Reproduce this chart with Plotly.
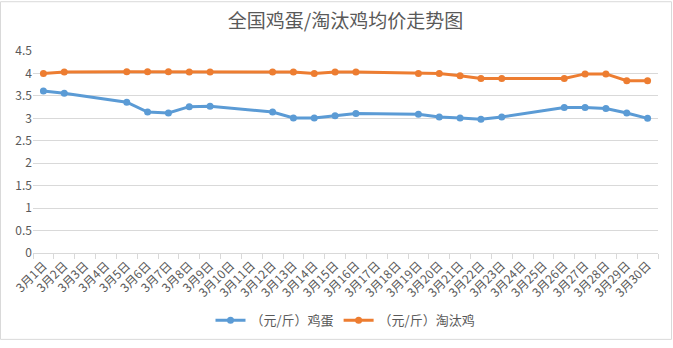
import plotly.graph_objects as go

days = [f"3月{d}日" for d in range(1, 31)]

egg = [3.61, 3.56, None, None, 3.36, 3.14, 3.12, 3.26, 3.27, None, None, 3.14, 3.01, 3.01, 3.06,
       3.11, None, None, 3.09, 3.03, 3.01, 2.98, 3.03, None, None, 3.24, 3.24, 3.22, 3.12, 3.00]
hen = [4.00, 4.03, None, None, 4.04, 4.04, 4.04, 4.03, 4.03, None, None, 4.03, 4.03, 4.00, 4.03,
       4.03, None, None, 4.00, 4.00, 3.95, 3.89, 3.89, None, None, 3.89, 3.99, 3.99, 3.84, 3.84]

series_names = ["（元/斤）鸡蛋", "（元/斤）淘汰鸡"]
colors = ["#5B9BD5", "#ED7D31"]

W, H = 673, 348
ml, mr, mt, mb = 33, 15, 51, 90

fig = go.Figure()
for name, vals, c in zip(series_names, [egg, hen], colors):
    fig.add_trace(go.Scatter(
        x=days, y=vals, name=name, mode="lines+markers", connectgaps=True,
        line=dict(color=c, width=3), marker=dict(color=c, size=7),
    ))

pw, ph = W - ml - mr, H - mt - mb
fig.add_shape(type="rect", xref="paper", yref="paper",
              x0=(0.5 - ml) / pw, x1=(W - 1.5 - ml) / pw,
              y0=-(H - 1.5 - mt - ph) / ph, y1=1 + (mt - 0.5) / ph,
              line=dict(color="#D9D9D9", width=1), layer="below")

fig.update_layout(
    width=W, height=H,
    margin=dict(l=ml, r=mr, t=mt, b=mb),
    paper_bgcolor="white", plot_bgcolor="white",
    font=dict(family="Noto Sans CJK SC", color="#595959", size=12),
    title=dict(text="全国鸡蛋/淘汰鸡均价走势图", x=0.5, xref="paper", xanchor="center",
               y=1 - 21 / H, yanchor="middle",
               font=dict(size=19, color="#595959")),
    showlegend=True,
    legend=dict(orientation="h", x=0.5, xanchor="center", y=-69 / ph, yanchor="middle",
                font=dict(size=13, color="#595959")),
    xaxis=dict(type="category", range=[-0.5, 29.5], tickangle=-45, tickson="boundaries",
               ticks="outside", ticklen=5, tickcolor="#D9D9D9", showline=True, linecolor="#D9D9D9",
               showgrid=False, automargin=False, tickfont=dict(size=12, color="#595959")),
    yaxis=dict(range=[0, 4.5], dtick=0.5, showgrid=True, gridcolor="#D9D9D9", zeroline=False,
               showline=False, ticks="", automargin=False, tickfont=dict(size=12, color="#595959")),
)

fig.write_html("out.html")
